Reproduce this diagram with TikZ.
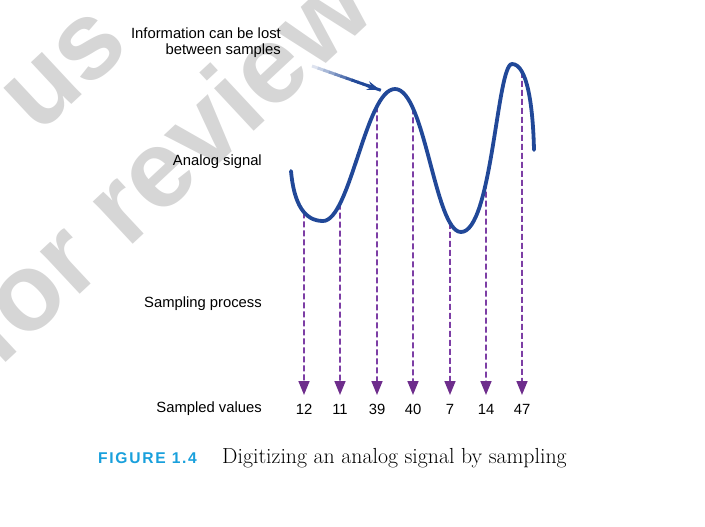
\documentclass[tikz,border=0pt]{standalone}
\usepackage{fontspec}
\setmainfont{Liberation Sans}
\newfontfamily\capserif{Latin Modern Roman}
\newfontfamily\figfont[LetterSpace=11]{Liberation Sans}
\usetikzlibrary{arrows.meta,intersections,calc}
\definecolor{sigblue}{RGB}{33,72,152}
\definecolor{smpl}{RGB}{125,62,165}
\definecolor{smplhead}{RGB}{110,45,140}
\definecolor{figcyan}{RGB}{25,160,220}
\definecolor{wmgray}{RGB}{214,214,214}
\begin{document}
\begin{tikzpicture}[x=1pt,y=-1pt,
  lbl/.style={font=\fontsize{14.8}{16}\selectfont, anchor=east, inner sep=0, align=right},
  val/.style={font=\fontsize{14.8}{16}\selectfont, inner sep=0},
  sample/.style={draw=smpl, line width=1.6pt, dash pattern=on 6pt off 3pt,
    -{Triangle[length=14pt,width=11pt,color=smplhead]}},
  wave/.style={draw=sigblue, line width=3.8pt, line cap=round},
  wm/.style={text=wmgray, font=\fontsize{110}{130}\selectfont\bfseries, rotate=43, inner sep=0, anchor=base west},
  figlbl/.style={text=figcyan, font=\fontsize{15.6}{17}\selectfont\figfont\bfseries, anchor=west, inner sep=0},
  figcap/.style={font=\fontsize{21.8}{24}\selectfont\capserif, anchor=west, inner sep=0}
]
\useasboundingbox (0,0) rectangle (705,527);
% watermark
\begin{scope}
  \clip (0,0) rectangle (705,527);
  \node[wm] (wmA) at (-2,370) {for review};
  \node[wm] (wmB) at (38,136) {us};
\end{scope}
% labels
\node[lbl] (info) at (281,43) {Information can be lost\\between samples};
\node[lbl] (analog) at (262,162) {Analog signal};
\node[lbl] (proc) at (262,304) {Sampling process};
\node[lbl] (vals) at (262,409) {Sampled values};
% wave path (for intersections)
\path[name path=wavep] (291,171) .. controls (294,205) and (305,221) .. (323,221)
  .. controls (350,221) and (366,89) .. (395,89)
  .. controls (425,89) and (435,232) .. (461,232)
  .. controls (492,232) and (497,64) .. (512,64)
  .. controls (527,64) and (533,105) .. (534,150);
% samples
\foreach \i/\x/\v in {1/304/12,2/340/11,3/377/39,4/413/40,5/450/7,6/486/14,7/522/47}{
  \path[name path=vl\i] (\x,0) -- (\x,400);
  \path[name intersections={of=wavep and vl\i, by={s\i}}];
  \node[val] (v\i) at (\x,409) {\v};
  \coordinate (e\i) at (\x,395);
  \draw[sample] (s\i) -- (e\i);
}
% wave drawn on top
\draw[wave] (291,171) .. controls (294,205) and (305,221) .. (323,221)
  .. controls (350,221) and (366,89) .. (395,89)
  .. controls (425,89) and (435,232) .. (461,232)
  .. controls (492,232) and (497,64) .. (512,64)
  .. controls (527,64) and (533,105) .. (534,150);
% annotation arrow with fading
\coordinate (annS) at (312,66);
\coordinate (annE) at (380,90);
\foreach \i in {0,...,11}{
  \pgfmathsetmacro{\p}{min(100,15+\i*12)}
  \draw[sigblue!\p, line width=3pt]
    ($(annS)!{\i/12}!(annE)$) -- ($(annS)!{(\i+1.15)/12}!(annE)$);
}
\draw[sigblue, line width=3pt, -{Stealth[length=13pt,width=9pt]}]
  ($(annS)!0.8!(annE)$) -- (annE);
% caption
\node[figlbl] (fig) at (98,458) {FIGURE 1.4};
\node[figcap] (cap) at (222,458) {Digitizing an analog signal by sampling};
\end{tikzpicture}
\end{document}
